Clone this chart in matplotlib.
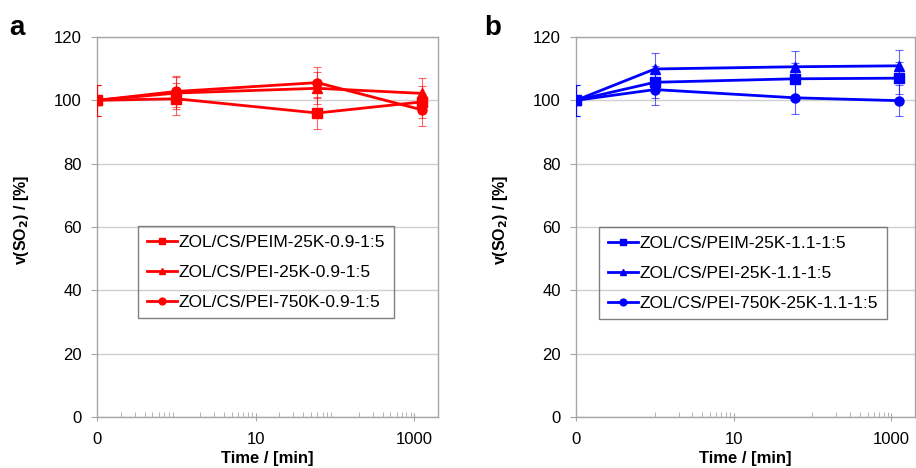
import matplotlib
matplotlib.use("Agg")
import matplotlib.pyplot as plt
from matplotlib.ticker import FixedLocator, NullFormatter
import numpy as np

plt.rcParams['font.family'] = ['Liberation Sans', 'DejaVu Sans']

# data
times = [0.1, 1, 60, 1250]          # first point (t=0) drawn at 0.1 on log axis
xtick_vals = [0.1, 10, 1000]
xtick_labels = ["0", "10", "1000"]

labels_a = ["ZOL/CS/PEIM-25K-0.9-1:5", "ZOL/CS/PEI-25K-0.9-1:5", "ZOL/CS/PEI-750K-0.9-1:5"]
vals_a = [[100, 100.5, 96.0, 99.5],
          [100, 102.3, 103.8, 102.2],
          [100, 102.8, 105.6, 97.0]]
err_a = [[5, 5, 5, 5],
         [5, 5, 5, 5],
         [5, 5, 5, 5]]

labels_b = ["ZOL/CS/PEIM-25K-1.1-1:5", "ZOL/CS/PEI-25K-1.1-1:5", "ZOL/CS/PEI-750K-25K-1.1-1:5"]
vals_b = [[100, 105.7, 106.8, 107.0],
          [100, 109.9, 110.6, 110.9],
          [100, 103.4, 100.8, 99.9]]
err_b = [[5, 5, 5, 5],
         [5, 5, 5, 5],
         [5, 5, 5, 5]]

markers = ['s', '^', 'o']

W, H = 916, 468
fig = plt.figure(figsize=(W/100, H/100), dpi=100)

def make_axes(l, r, t, b):
    return fig.add_axes([l/W, 1 - b/H, (r-l)/W, (b-t)/H])

ax_a = make_axes(97, 438, 37, 417)
ax_b = make_axes(576, 915, 37, 417)

minor_a = [k*10.0**n for n in range(-1, 3) for k in range(2, 10)]
minor_b = [k*10.0**n for n in (0, 2) for k in range(1, 10)]

gray = '#a6a6a6'
FS = 12

def setup(ax, minor, color, labels, vals, errs, legbox, width):
    ax.set_xscale('log')
    ax.set_xlim(0.1, 2000)
    ax.set_ylim(0, 120)
    ax.set_yticks(np.arange(0, 121, 20))
    ax.yaxis.grid(True, color='#d0d0d0', linewidth=1)
    ax.set_axisbelow(True)
    ax.xaxis.set_major_locator(FixedLocator(xtick_vals))
    ax.set_xticklabels(xtick_labels)
    ax.xaxis.set_minor_locator(FixedLocator(minor))
    ax.xaxis.set_minor_formatter(NullFormatter())
    ax.tick_params(axis='x', which='major', direction='inout', length=6, color=gray,
                   labelsize=FS, pad=8)
    ax.tick_params(axis='x', which='minor', direction='in', length=3.5, color=gray)
    ax.tick_params(axis='y', direction='out', length=4, color=gray, labelsize=FS, pad=7)
    for s in ax.spines.values():
        s.set_color(gray)
        s.set_linewidth(1)
    ax.set_xlabel("Time / [min]", fontweight='bold', fontsize=12, labelpad=3)
    ax.set_ylabel("v(SO$_\\mathbf{2}$) / [%]", fontweight='bold', fontsize=11.5)
    handles = []
    for lab, v, e, m in zip(labels, vals, errs, markers):
        ax.errorbar(times, v, yerr=e, fmt='none', ecolor=color, elinewidth=0.8,
                    capsize=3, capthick=0.8, alpha=0.6, zorder=3)
        h, = ax.plot(times, v, color=color, marker=m, markersize=6.5, linewidth=2,
                     label=lab, zorder=4)
        handles.append(h)
    leg = ax.legend(handles=handles, loc='upper left', bbox_to_anchor=legbox,
                    frameon=True, fancybox=False, fontsize=12.5, handlelength=1.72,
                    handletextpad=0.12, borderpad=0.5, labelspacing=0.85,
                    markerscale=0.75, borderaxespad=0)
    leg.get_frame().set_facecolor('none')
    leg.get_frame().set_edgecolor('#606060')
    leg.get_frame().set_linewidth(1)
    ax.yaxis.set_label_coords(-66/width, 0.52)

def ax_frac(x, y, l, r, t, b):
    return ((x - l)/(r - l), (b - y)/(b - t))

setup(ax_a, minor_a, '#ff0000', labels_a, vals_a, err_a,
      ax_frac(138, 226, 97, 438, 37, 417), 438 - 97)
setup(ax_b, minor_b, '#0000ff', labels_b, vals_b, err_b,
      ax_frac(599, 227, 576, 915, 37, 417), 915 - 576)

fig.text(9/W, 1 - 35/H, "a", fontsize=20, fontweight='bold', va='baseline')
fig.text(484/W, 1 - 35/H, "b", fontsize=20, fontweight='bold', va='baseline')

fig.savefig("out.png", dpi=100)
